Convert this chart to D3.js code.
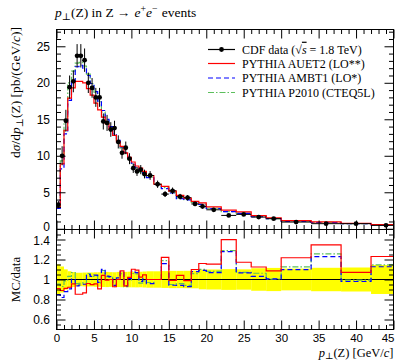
<!DOCTYPE html>
<html>
<head>
<meta charset="utf-8">
<script src="https://cdn.jsdelivr.net/npm/d3@7"></script>
<style>
  html, body { margin: 0; padding: 0; background: #fff; }
  svg { display: block; font-family: "Liberation Serif", "DejaVu Serif", serif; }
</style>
</head>
<body>
<div id="chart"></div>
<script>
// Z boson transverse momentum spectrum, CDF Run I (Z -> e+e-), with PYTHIA tunes.
// Bin edges in GeV/c: 0.5 GeV up to 12, 1 GeV up to 20, 2 GeV up to 30, 4 GeV beyond.
const binEdges = [0, 0.5, 1, 1.5, 2, 2.5, 3, 3.5, 4, 4.5, 5, 5.5, 6, 6.5, 7, 7.5, 8, 8.5,
  9, 9.5, 10, 10.5, 11, 11.5, 12, 13, 14, 15, 16, 17, 18, 19, 20, 22, 24, 26, 28, 30,
  34, 38, 42, 46];

// dσ/dpT [pb/(GeV/c)]
const cdfData = [3.3, 10.0, 14.8, 19.4, 20.2, 23.7, 23.7, 23.1, 20.0, 19.3, 18.0, 18.0,
  14.7, 14.5, 13.6, 13.8, 11.9, 10.4, 11.1, 9.6, 8.3, 7.86, 8.1, 7.5,
  7.3, 6.1, 4.75, 5.2, 4.4, 4.25, 3.4, 3.06,
  2.6, 1.83, 1.97, 1.6, 1.38,
  0.92, 0.70, 0.70, 0.47];
const cdfErr = [0.50, 1.30, 1.50, 1.60, 1.50, 1.60, 1.60, 1.60, 1.40, 1.35, 1.30, 1.30,
  1.10, 1.10, 1.00, 1.00, 0.90, 0.80, 0.85, 0.75, 0.65, 0.62, 0.63, 0.60,
  0.60, 0.50, 0.40, 0.45, 0.38, 0.37, 0.30, 0.30,
  0.26, 0.19, 0.20, 0.18, 0.16,
  0.10, 0.082, 0.084, 0.068];
const pythiaAUET2 = [3.0, 8.9, 13.5, 17.9, 19.3, 20.2, 20.2, 20.0, 19.2, 18.3, 17.2, 16.3,
  15.3, 14.4, 13.6, 12.8, 11.9, 11.3, 10.4, 9.8, 9.15, 8.6, 8.3, 7.85,
  7.3, 6.1, 5.8, 5.15, 4.58, 4.2, 3.74, 3.55,
  3.0, 2.56, 2.31, 1.80, 1.50,
  1.12, 0.943, 0.75, 0.578];
const pythiaAMBT1 = [2.8, 8.2, 13.0, 17.6, 20.3, 22.2, 22.4, 22.0, 21.0, 19.9, 18.8, 17.5,
  16.2, 15.0, 14.0, 13.0, 12.1, 11.2, 10.4, 9.7, 9.0, 8.4, 7.95, 7.55,
  7.0, 6.1, 5.5, 4.9, 4.14, 3.95, 3.67, 3.34,
  2.78, 2.34, 2.10, 1.65, 1.39,
  1.01, 0.86, 0.686, 0.53];
const pythiaP2010 = [3.15, 9.3, 14.6, 20.0, 21.6, 22.7, 22.8, 22.3, 21.2, 19.9, 18.7, 17.4,
  16.0, 14.9, 13.9, 12.8, 11.9, 11.0, 10.3, 9.5, 8.8, 8.3, 7.8, 7.4,
  7.08, 6.1, 5.65, 4.94, 4.22, 4.0, 3.6, 3.37,
  2.81, 2.36, 2.11, 1.70, 1.384,
  1.037, 0.88, 0.695, 0.539];

const xTickValues = [0, 5, 10, 15, 20, 25, 30, 35, 40, 45];
const yTickValues = [0, 5, 10, 15, 20, 25];
const ratioTickValues = [0.6, 0.8, 1, 1.2, 1.4];

const legendLabels = ["CDF data", "PYTHIA AUET2 (LO**)", "PYTHIA AMBT1 (LO*)", "PYTHIA P2010 (CTEQ5L)"];

// ---------------------------------------------------------------- layout
const W = 399, H = 360;
const L = 56.5, R = 393.5;
const mainTop = 29.5, mainBot = 229.5, ratioTop = 229.5, ratioBot = 329.5;
const FS = 12;      // tick labels, legend
const TFS = 13.5;   // titles

const x = d3.scaleLinear().domain([0, 45]).range([L, R]);
const y = d3.scaleLinear().domain([-0.1, 27.3]).range([mainBot, mainTop]);
const yr = d3.scaleLinear().domain([0.5, 1.5]).range([ratioBot, ratioTop]);

const svg = d3.select("#chart").append("svg").attr("width", W).attr("height", H);

const defs = svg.append("defs");
defs.append("clipPath").attr("id", "clipMain").append("rect")
  .attr("x", L).attr("y", mainTop).attr("width", R - L).attr("height", mainBot - mainTop);
defs.append("clipPath").attr("id", "clipRatio").append("rect")
  .attr("x", L).attr("y", ratioTop).attr("width", R - L).attr("height", ratioBot - ratioTop);

const series = [
  { values: pythiaP2010, color: "#5cbf5c", dash: "6,2,1.5,2" },
  { values: pythiaAMBT1, color: "#0000ff", dash: "5,3" },
  { values: pythiaAUET2, color: "#ff0000", dash: null }
];

// step histogram points: each bin's value at its low edge, closed at the last high edge
function stepPoints(vals) {
  const pts = vals.map((v, i) => [binEdges[i], v]);
  pts.push([binEdges[vals.length], vals[vals.length - 1]]);
  return pts;
}

// ---------------------------------------------------------------- main panel
const gMain = svg.append("g").attr("clip-path", "url(#clipMain)");
const lineMain = d3.line().x(d => x(d[0])).y(d => y(d[1])).curve(d3.curveStepAfter);

series.forEach(s => {
  gMain.append("path")
    .attr("d", lineMain(stepPoints(s.values)))
    .attr("fill", "none").attr("stroke", s.color).attr("stroke-width", 1.2)
    .attr("stroke-dasharray", s.dash);
});

const bins = cdfData.map((v, i) => ({ lo: binEdges[i], hi: binEdges[i + 1], v, e: cdfErr[i] }));
const gData = gMain.append("g");
gData.selectAll("line.ex").data(bins).join("line").attr("class", "ex")
  .attr("x1", d => x(d.lo)).attr("x2", d => x(d.hi))
  .attr("y1", d => y(d.v)).attr("y2", d => y(d.v))
  .attr("stroke", "#000").attr("stroke-width", 1);
gData.selectAll("line.ey").data(bins).join("line").attr("class", "ey")
  .attr("x1", d => x((d.lo + d.hi) / 2)).attr("x2", d => x((d.lo + d.hi) / 2))
  .attr("y1", d => y(d.v - d.e)).attr("y2", d => y(d.v + d.e))
  .attr("stroke", "#000").attr("stroke-width", 1);
gData.selectAll("circle").data(bins).join("circle")
  .attr("cx", d => x((d.lo + d.hi) / 2)).attr("cy", d => y(d.v)).attr("r", 2.4)
  .attr("fill", "#000");

// ---------------------------------------------------------------- ratio panel
const gRatio = svg.append("g").attr("clip-path", "url(#clipRatio)");
gRatio.selectAll("rect.band").data(bins).join("rect").attr("class", "band")
  .attr("x", d => x(d.lo)).attr("width", d => x(d.hi) - x(d.lo))
  .attr("y", d => yr(1 + d.e / d.v)).attr("height", d => yr(1 - d.e / d.v) - yr(1 + d.e / d.v))
  .attr("fill", "#ffff00");

gRatio.append("line").attr("x1", L).attr("x2", R).attr("y1", yr(1)).attr("y2", yr(1))
  .attr("stroke", "#000").attr("stroke-width", 1.2);

const lineRatio = d3.line().x(d => x(d[0])).y(d => yr(d[1])).curve(d3.curveStepAfter);
series.forEach(s => {
  const r = s.values.map((v, i) => v / cdfData[i]);
  gRatio.append("path")
    .attr("d", lineRatio(stepPoints(r)))
    .attr("fill", "none").attr("stroke", s.color).attr("stroke-width", 1.2)
    .attr("stroke-dasharray", s.dash);
});

// ---------------------------------------------------------------- axes & frames
const MAJ = 9, MIN = 4.5;
function tickAxis(axisFn, scale, values, len, pos, isX) {
  const ax = axisFn(scale).tickValues(values).tickSize(-len).tickFormat("");
  const g = svg.append("g").attr("transform", isX ? `translate(0,${pos})` : `translate(${pos},0)`).call(ax);
  g.select(".domain").remove();
  g.selectAll("line").attr("stroke", "#000").attr("stroke-width", 1);
  return g;
}
const xMinor = d3.range(0, 46, 1).filter(v => v % 5 !== 0);
const yMinor = d3.range(1, 28, 1).filter(v => v % 5 !== 0);
const rMinor = d3.range(0.55, 1.5, 0.05).map(v => +v.toFixed(2)).filter(v => Math.abs(v * 5 - Math.round(v * 5)) > 1e-6);

[[mainTop, d3.axisTop], [mainBot, d3.axisBottom], [ratioTop, d3.axisTop], [ratioBot, d3.axisBottom]].forEach(([p, f]) => {
  tickAxis(f, x, xTickValues, MAJ, p, true);
  tickAxis(f, x, xMinor, MIN, p, true);
});
[[L, d3.axisLeft], [R, d3.axisRight]].forEach(([p, f]) => {
  tickAxis(f, y, yTickValues, MAJ, p, false);
  tickAxis(f, y, yMinor, MIN, p, false);
  tickAxis(f, yr, ratioTickValues, MAJ, p, false);
  tickAxis(f, yr, rMinor, MIN, p, false);
});

// frames
svg.append("rect").attr("x", L).attr("y", mainTop).attr("width", R - L).attr("height", mainBot - mainTop)
  .attr("fill", "none").attr("stroke", "#000").attr("stroke-width", 1);
svg.append("rect").attr("x", L).attr("y", ratioTop).attr("width", R - L).attr("height", ratioBot - ratioTop)
  .attr("fill", "none").attr("stroke", "#000").attr("stroke-width", 1);

// tick labels
const yLab = svg.append("g").attr("transform", `translate(${L},0)`)
  .call(d3.axisLeft(y).tickValues(yTickValues).tickSize(0).tickPadding(6.5).tickFormat(d3.format("d")));
yLab.select(".domain").remove();
yLab.selectAll("text").attr("font-size", FS).attr("font-family", null).attr("fill", "#000");
yLab.selectAll(".tick").filter(d => d === 0).select("text").attr("dy", "0.12em");

const rLab = svg.append("g").attr("transform", `translate(${L},0)`)
  .call(d3.axisLeft(yr).tickValues(ratioTickValues).tickSize(0).tickPadding(6.5).tickFormat(d => d3.format("")(+d.toFixed(1))));
rLab.select(".domain").remove();
rLab.selectAll("text").attr("font-size", FS).attr("font-family", null).attr("fill", "#000");
rLab.selectAll(".tick").filter(d => d === 1.4).select("text").attr("dy", "0.45em");

const xLab = svg.append("g").attr("transform", `translate(0,${ratioBot})`)
  .call(d3.axisBottom(x).tickValues(xTickValues).tickSize(0).tickPadding(4.5).tickFormat(d3.format("d")));
xLab.select(".domain").remove();
xLab.selectAll("text").attr("font-size", 11.5).attr("font-family", null).attr("fill", "#000");
// keep the last label inside the frame's right edge
xLab.selectAll(".tick").filter(d => d === 45).select("text").attr("text-anchor", "end").attr("x", 0.5);

// ---------------------------------------------------------------- text helpers
function rich(textSel, segs, fs) {
  let shift = 0;
  segs.forEach(s => {
    const t = textSel.append("tspan").text(s.t);
    const target = s.sub ? fs * 0.22 : s.sup ? -fs * 0.38 : 0;
    if (target - shift !== 0) t.attr("dy", target - shift);
    shift = target;
    if (s.dx) t.attr("dx", s.dx);
    if (s.sub || s.sup) t.attr("font-size", fs * 0.72);
    if (s.it) t.attr("font-style", "italic");
    if (s.over) t.attr("text-decoration", "overline");
  });
  return textSel;
}

// title
rich(svg.append("text").attr("x", 55).attr("y", 17).attr("font-size", TFS), [
  { t: "p", it: true }, { t: "⊥", sub: true }, { t: "(Z) in Z" }, { t: "→", dx: 3 }, { t: " " },
  { t: "e", it: true, dx: 1 }, { t: "+", sup: true }, { t: "e", it: true }, { t: "−", sup: true }, { t: " events", dx: 1 }
], TFS);

// y axis title
rich(svg.append("text").attr("transform", "translate(15,27) rotate(-90)")
  .attr("text-anchor", "end").attr("dy", "0.35em").attr("font-size", TFS), [
  { t: "d" }, { t: "σ", it: true }, { t: "/d" }, { t: "p", it: true }, { t: "⊥", sub: true },
  { t: "(Z) [pb/(GeV/" }, { t: "c", it: true }, { t: ")]" }
], TFS);

// ratio axis title
svg.append("text").attr("transform", `translate(15,${yr(1)}) rotate(-90)`)
  .attr("text-anchor", "middle").attr("dy", "0.35em").attr("font-size", 13).text("MC/data");

// x axis title
rich(svg.append("text").attr("x", R).attr("y", 356.5).attr("text-anchor", "end").attr("font-size", 12.5), [
  { t: "p", it: true }, { t: "⊥", sub: true }, { t: "(Z) [GeV/" }, { t: "c", it: true }, { t: "]" }
], 12.5);

// ---------------------------------------------------------------- legend
const legendRows = [49.5, 63.5, 78, 92.5];
const legendStyles = [
  { color: "#000", dash: null, dot: true },
  { color: "#ff0000", dash: null },
  { color: "#0000ff", dash: "5,3" },
  { color: "#5cbf5c", dash: "6,2,1.5,2" }
];
const gLeg = svg.append("g");
legendStyles.forEach((s, i) => {
  const yy = legendRows[i];
  gLeg.append("line").attr("x1", 208).attr("x2", 235).attr("y1", yy).attr("y2", yy)
    .attr("stroke", s.color).attr("stroke-width", 1.2).attr("stroke-dasharray", s.dash);
  if (s.dot) gLeg.append("circle").attr("cx", 221.5).attr("cy", yy).attr("r", 2.4).attr("fill", "#000");
  const t = gLeg.append("text").attr("x", 242).attr("y", yy).attr("dy", "0.35em").attr("font-size", FS);
  if (i === 0) {
    rich(t, [{ t: legendLabels[0] + " (√" }, { t: "s", it: true, over: true }, { t: " = 1.8 TeV)" }], FS);
  } else {
    t.text(legendLabels[i]);
  }
});
</script>
</body>
</html>
